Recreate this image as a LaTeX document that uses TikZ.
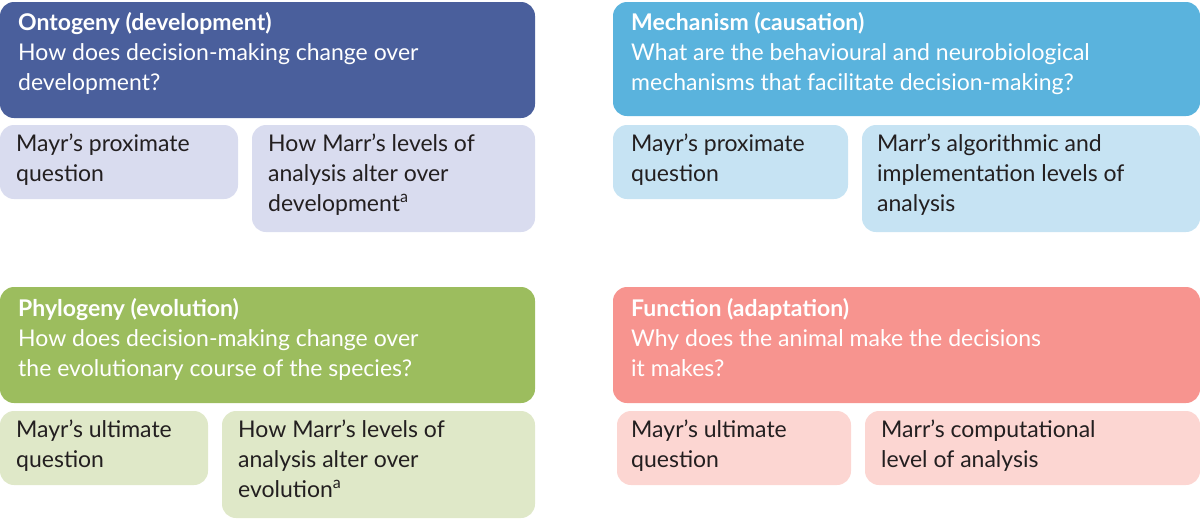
\documentclass[tikz,border=0pt]{standalone}
\usepackage{fontspec}
\setmainfont{Lato}
\definecolor{ontH}{HTML}{4A5F9C}
\definecolor{ontS}{HTML}{D9DCEF}
\definecolor{mecH}{HTML}{5AB3DD}
\definecolor{mecS}{HTML}{C6E3F3}
\definecolor{phyH}{HTML}{9CBD5E}
\definecolor{phyS}{HTML}{DFE8C8}
\definecolor{funH}{HTML}{F7948F}
\definecolor{funS}{HTML}{FCD6D2}
\definecolor{txt}{HTML}{231F20}
\tikzset{
 box/.style={rounded corners=14pt},
 htext/.style={anchor=north west,align=left,inner sep=0pt,text=white,font=\fontsize{23}{30}\selectfont},
 stext/.style={anchor=north west,align=left,inner sep=0pt,text=txt,font=\fontsize{23}{30}\selectfont},
}
\begin{document}
\begin{tikzpicture}[x=1pt,y=-1pt]
\useasboundingbox (0,0) rectangle (1200,520);
% Ontogeny
\fill[box,ontH] (0,2) rectangle (535,118);
\fill[box,ontS] (0,125) rectangle (238,199);
\fill[box,ontS] (252,125) rectangle (535,232);
\node[htext] (ontT) at (18,12) {\textbf{Ontogeny (development)}\\How does decision-making change over\\development?};
\node[stext] (ont1) at (16,134) {Mayr’s proximate\\question};
\node[stext] (ont2) at (268,134) {How Marr’s levels of\\analysis alter over\\development\textsuperscript{a}};
% Mechanism
\fill[box,mecH] (613,2) rectangle (1200,116);
\fill[box,mecS] (613,125) rectangle (848,199);
\fill[box,mecS] (862,125) rectangle (1200,232);
\node[htext] (mecT) at (631,12) {\textbf{Mechanism (causation)}\\What are the behavioural and neurobiological\\mechanisms that facilitate decision-making?};
\node[stext] (mec1) at (631,134) {Mayr’s proximate\\question};
\node[stext] (mec2) at (877,134) {Marr’s algorithmic and\\implementation levels of\\analysis};
% Phylogeny
\fill[box,phyH] (0,287) rectangle (535,403);
\fill[box,phyS] (0,411) rectangle (208,485);
\fill[box,phyS] (222,411) rectangle (535,518);
\node[htext] (phyT) at (18,298) {\textbf{Phylogeny (evolution)}\\How does decision-making change over\\the evolutionary course of the species?};
\node[stext] (phy1) at (16,420) {Mayr’s ultimate\\question};
\node[stext] (phy2) at (238,420) {How Marr’s levels of\\analysis alter over\\evolution\textsuperscript{a}};
% Function
\fill[box,funH] (613,287) rectangle (1200,403);
\fill[box,funS] (617,411) rectangle (851,485);
\fill[box,funS] (865,411) rectangle (1200,485);
\node[htext] (funT) at (631,298) {\textbf{Function (adaptation)}\\Why does the animal make the decisions\\it makes?};
\node[stext] (fun1) at (631,420) {Mayr’s ultimate\\question};
\node[stext] (fun2) at (881,420) {Marr’s computational\\level of analysis};
\end{tikzpicture}
\end{document}
